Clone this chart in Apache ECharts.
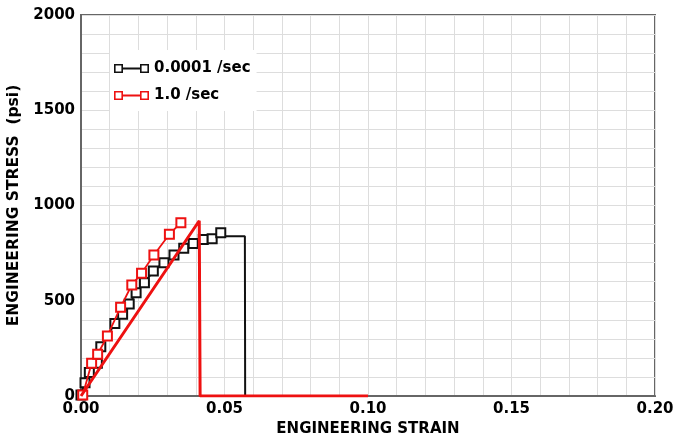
<!DOCTYPE html>
<html>
<head>
<meta charset="utf-8">
<script src="https://cdn.jsdelivr.net/npm/echarts@6/dist/echarts.min.js"></script>
<style>
html,body{margin:0;padding:0;background:#fff;}
#chart{width:675px;height:442px;}
</style>
</head>
<body>
<div id="chart"></div>
<script>
// Series 0.0001 /sec (markers)
var strainSlow = [0.0000, 0.0014, 0.0029, 0.0057, 0.0069, 0.0118, 0.0145, 0.0168, 0.0192, 0.0221, 0.0252, 0.0289, 0.0324, 0.0358, 0.0391, 0.0426, 0.0457, 0.0487];
var stressSlow = [5, 70, 124, 172, 259, 381, 429, 483, 542, 595, 656, 700, 740, 775, 801, 822, 826, 857];
// Tail of 0.0001 /sec curve (no markers)
var strainSlowTail = [0.0505, 0.0571, 0.0572];
var stressSlowTail = [838, 838, 0];
// Series 1.0 /sec (markers)
var strainFast = [0.0006, 0.0037, 0.0058, 0.0092, 0.0138, 0.0177, 0.0211, 0.0254, 0.0308, 0.0348];
var stressFast = [5, 172, 219, 315, 466, 583, 644, 740, 849, 910];
// Thick red line
var strainModel = [0.0, 0.0412, 0.0415, 0.100];
var stressModel = [0, 920, 0, 0];
// Axis ticks
var xTicks = [0.00, 0.05, 0.10, 0.15, 0.20];
var yTicks = [0, 500, 1000, 1500, 2000];

var seriesNames = ['0.0001 /sec', '1.0 /sec'];
var colBlack = '#111111';
var colRed = '#ee1111';
var FONT = 'DejaVu Sans';

function pairs(xs, ys) { return xs.map(function (x, i) { return [x, ys[i]]; }); }

var slowData = pairs(strainSlow, stressSlow).concat(
  pairs(strainSlowTail, stressSlowTail).map(function (p) { return { value: p, symbol: 'none' }; })
);

var iconPath = 'path://M0 0H9V9H0Z M1.6 1.6V7.4H7.4V1.6Z M9 3.6H26V5.4H9Z M26 0H35V9H26Z M27.6 1.6V7.4H33.4V1.6Z';

var chart = echarts.init(document.getElementById('chart'), null, { renderer: 'canvas' });
chart.setOption({
  animation: false,
  backgroundColor: '#fff',
  grid: { left: 81, right: 20, top: 15, bottom: 46, containLabel: false, outerBoundsMode: 'none', show: true, borderColor: '#666', borderWidth: 2, backgroundColor: 'transparent' },
  legend: {
    orient: 'vertical',
    left: 110, top: 50,
    backgroundColor: '#fff',
    padding: [11, 6, 8, 4],
    itemGap: 12,
    itemWidth: 35, itemHeight: 9,
    icon: iconPath,
    itemStyle: { borderWidth: 0 },
    textStyle: { fontFamily: FONT, fontWeight: 'bold', fontSize: 15, color: '#000' },
    data: seriesNames
  },
  xAxis: {
    type: 'value', min: xTicks[0], max: xTicks[xTicks.length - 1], interval: 0.05,
    name: 'ENGINEERING STRAIN', nameLocation: 'middle', nameGap: 26,
    nameTextStyle: { fontFamily: FONT, fontWeight: 'bold', fontSize: 15, color: '#000' },
    axisLine: { show: true, lineStyle: { color: '#666', width: 2 } },
    axisTick: { show: false },
    minorTick: { show: false, splitNumber: 5 },
    splitLine: { show: true, lineStyle: { color: '#dddddd', width: 1 } },
    minorSplitLine: { show: true, lineStyle: { color: '#dddddd', width: 1 } },
    axisLabel: { margin: 6, fontFamily: FONT, fontWeight: 'bold', fontSize: 15, color: '#000', formatter: function (v) { return v.toFixed(2); } }
  },
  yAxis: {
    type: 'value', min: yTicks[0], max: yTicks[yTicks.length - 1], interval: 500,
    name: 'ENGINEERING STRESS  (psi)', nameLocation: 'middle', nameGap: 53, nameRotate: 90,
    nameTextStyle: { fontFamily: FONT, fontWeight: 'bold', fontSize: 15.5, color: '#000' },
    axisLine: { show: true, lineStyle: { color: '#666', width: 2 } },
    axisTick: { show: false },
    minorTick: { show: false, splitNumber: 5 },
    splitLine: { show: true, lineStyle: { color: '#dddddd', width: 1 } },
    minorSplitLine: { show: true, lineStyle: { color: '#dddddd', width: 1 } },
    axisLabel: { margin: 6, fontFamily: FONT, fontWeight: 'bold', fontSize: 15, color: '#000', formatter: function (v) { return String(Math.round(v)); } }
  },
  series: [
    {
      name: seriesNames[0], type: 'line', data: slowData,
      color: colBlack,
      symbol: 'emptyRect', symbolSize: 9, showSymbol: true,
      lineStyle: { color: colBlack, width: 2 },
      itemStyle: { color: colBlack, borderColor: colBlack, borderWidth: 1.6 },
      z: 2
    },
    {
      name: seriesNames[1], type: 'line', data: pairs(strainFast, stressFast),
      color: colRed,
      symbol: 'emptyRect', symbolSize: 9, showSymbol: true,
      lineStyle: { color: colRed, width: 1.8 },
      itemStyle: { color: colRed, borderColor: colRed, borderWidth: 1.6 },
      z: 3
    },
    {
      name: 'model', type: 'line', data: pairs(strainModel, stressModel),
      symbol: 'none', color: colRed,
      lineStyle: { color: colRed, width: 3 },
      z: 4
    }
  ]
});
</script>
</body>
</html>
